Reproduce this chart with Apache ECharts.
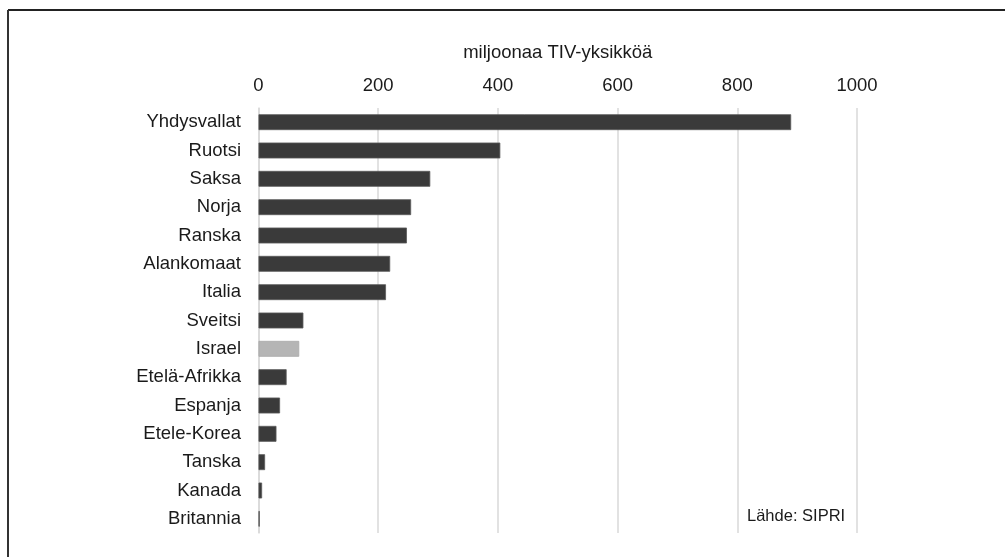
<!DOCTYPE html>
<html>
<head>
<meta charset="utf-8">
<script src="https://cdn.jsdelivr.net/npm/echarts@6/dist/echarts.min.js"></script>
<style>
html,body{margin:0;padding:0;background:#fff;}
#chart{width:1005px;height:557px;}
</style>
</head>
<body>
<div id="chart"></div>
<script>
const categories = ['Yhdysvallat','Ruotsi','Saksa','Norja','Ranska','Alankomaat','Italia','Sveitsi','Israel','Etelä-Afrikka','Espanja','Etele-Korea','Tanska','Kanada','Britannia'];
const values = [890, 404, 287, 255, 248, 220, 213, 75, 68, 47, 36, 30, 11, 6, 2];
const highlighted = 'Israel';
const axisTitle = 'miljoonaa TIV-yksikköä';
const sourceNote = 'Lähde: SIPRI';

const DARK = '#3a3a3a', LIGHT = '#b5b5b5';
const FONT = '"Liberation Sans", Arial, sans-serif';

const seriesData = values.map((v, i) => ({
  value: v,
  itemStyle: { color: categories[i] === highlighted ? LIGHT : DARK,
               borderColor: categories[i] === highlighted ? '#a8a8a8' : '#5a5a5a', borderWidth: 0.8 }
}));

const chart = echarts.init(document.getElementById('chart'), null, { renderer: 'canvas' });
chart.setOption({
  animation: false,
  backgroundColor: '#fff',
  grid: { left: 258.5, right: 148, top: 108, bottom: 24, containLabel: false },
  xAxis: {
    type: 'value', position: 'top', min: 0, max: 1000, interval: 200,
    name: axisTitle, nameLocation: 'middle', nameGap: 46,
    nameTextStyle: { fontFamily: FONT, fontSize: 18.5, color: '#1a1a1a' },
    axisLine: { show: false }, axisTick: { show: false },
    axisLabel: { fontFamily: FONT, fontSize: 18.5, color: '#1a1a1a', margin: 13,
                 formatter: v => String(v) },
    splitLine: { show: true, lineStyle: { color: '#d9d9d9', width: 1.5 } }
  },
  yAxis: {
    type: 'category', inverse: true, data: categories,
    axisLine: { show: true, lineStyle: { color: '#d9d9d9', width: 1.5 } },
    axisTick: { show: false },
    axisLabel: { fontFamily: FONT, fontSize: 18.5, color: '#1a1a1a', margin: 17.5 }
  },
  series: [{
    type: 'bar', data: seriesData, barCategoryGap: '44%'
  }],
  graphic: [
    { type: 'line', shape: { x1: 8, y1: 10, x2: 1005, y2: 10 }, style: { stroke: '#222', lineWidth: 2 } },
    { type: 'line', shape: { x1: 8, y1: 10, x2: 8, y2: 557 }, style: { stroke: '#333', lineWidth: 2 } },
    { type: 'text', left: 747, top: 508, style: { text: sourceNote, font: '16.5px ' + FONT, fill: '#1a1a1a' } }
  ]
});
</script>
</body>
</html>
